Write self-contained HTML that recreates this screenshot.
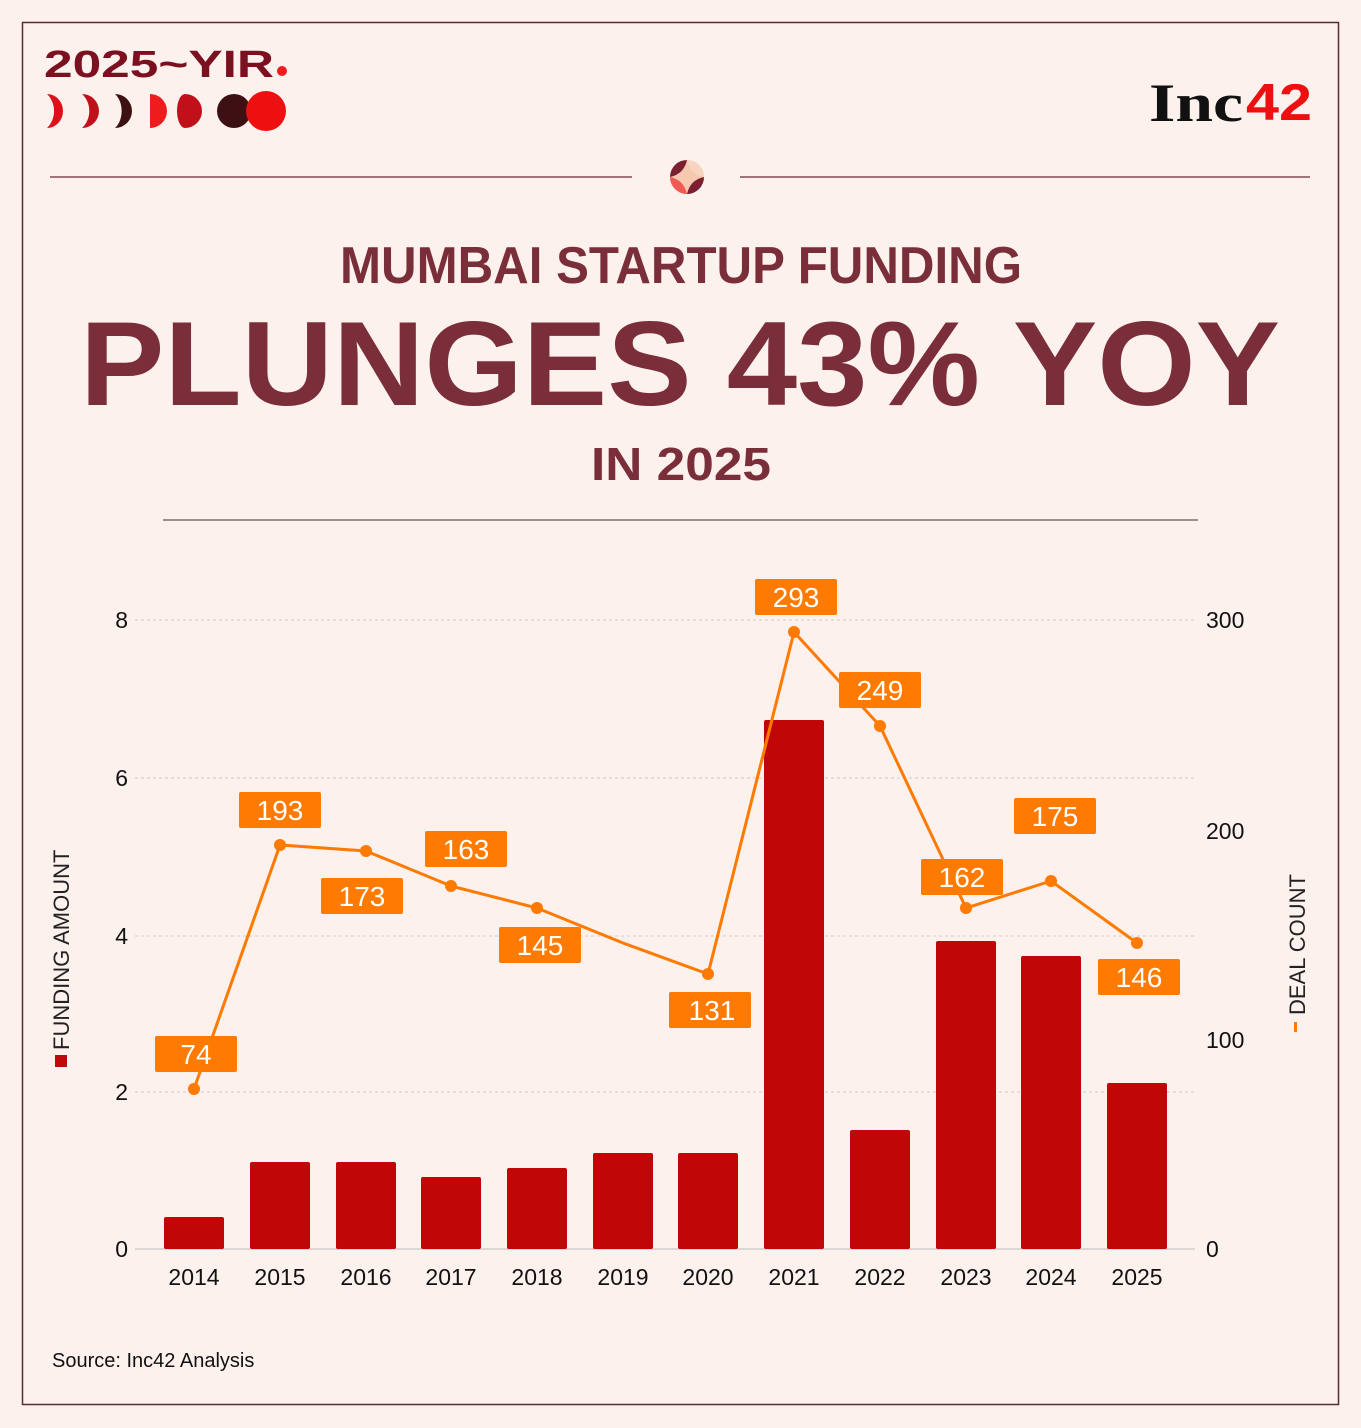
<!DOCTYPE html>
<html><head><meta charset="utf-8"><style>
html,body{margin:0;padding:0;background:#fdf1ee;}
svg{display:block;}
</style></head><body>
<svg width="1361" height="1428" viewBox="0 0 1361 1428" xmlns="http://www.w3.org/2000/svg" font-family="Liberation Sans, Arial, sans-serif">
<rect x="0" y="0" width="1361" height="1428" fill="#fdf1ee"/>
<rect x="22.5" y="22.5" width="1316" height="1382" fill="none" stroke="#5a2a30" stroke-width="1.5"/>
<!-- logo -->
<text x="44" y="77" font-size="38" font-weight="bold" fill="#7a1020" textLength="230" lengthAdjust="spacingAndGlyphs">2025~YIR</text>
<circle cx="282" cy="71" r="5" fill="#ee1c1c"/>
<path d="M47,94 A16,17 0 0 1 47,128 A24,24 0 0 0 47,94Z" fill="#e0101a"/>
<path d="M82,94 A17,17 0 0 1 82,128 A20,22 0 0 0 82,94Z" fill="#c0101a"/>
<path d="M115,94 A17,17 0 0 1 115,128 A14,20 0 0 0 115,94Z" fill="#3d1014"/>
<path d="M150,94 A17,17 0 0 1 150,128 Z" fill="#ee1c1c"/>
<path d="M185,94 A17,17 0 0 1 185,128 A8,17 0 0 1 185,94Z" fill="#c0101a"/>
<circle cx="234" cy="111" r="17" fill="#3d1014"/>
<circle cx="266" cy="111" r="20" fill="#ee1010"/>
<text x="1149" y="121" font-family="Liberation Serif, serif" font-size="54" font-weight="bold" fill="#111" textLength="94" lengthAdjust="spacingAndGlyphs">Inc</text>
<text x="1246" y="120" font-size="52" font-weight="bold" fill="#ee1010" textLength="66" lengthAdjust="spacingAndGlyphs">42</text>
<!-- divider -->
<line x1="50" y1="177" x2="632" y2="177" stroke="#6a2a35" stroke-width="1.2"/>
<line x1="740" y1="177" x2="1310" y2="177" stroke="#6a2a35" stroke-width="1.2"/>
<circle cx="687" cy="177" r="17" fill="#f5c9b0"/>
<path d="M670,177 A17,17 0 0 1 687,160 Q684,174 670,177Z" fill="#7a2030"/>
<path d="M670,177 A17,17 0 0 0 687,194 Q684,180 670,177Z" fill="#ef5a55"/>
<path d="M704,177 A17,17 0 0 1 687,194 Q690,180 704,177Z" fill="#7a2030"/>
<path d="M687,160 A17,17 0 0 1 704,177 Q690,174 687,160Z" fill="#f8d5c0"/>
<!-- titles -->
<text x="340" y="283" font-size="52" font-weight="bold" fill="#7a2e3a" textLength="682" lengthAdjust="spacingAndGlyphs">MUMBAI STARTUP FUNDING</text>
<text x="80" y="405" font-size="120" font-weight="bold" fill="#7a2e3a" textLength="1200" lengthAdjust="spacingAndGlyphs">PLUNGES 43% YOY</text>
<text x="591" y="480" font-size="46" font-weight="bold" fill="#7a2e3a" textLength="180" lengthAdjust="spacingAndGlyphs">IN 2025</text>
<line x1="163" y1="520" x2="1198" y2="520" stroke="#333" stroke-width="1"/>
<!-- grid -->
<g stroke="#ccc" stroke-dasharray="3,3" stroke-width="1">
<line x1="135" y1="620" x2="1195" y2="620"/>
<line x1="135" y1="778" x2="1195" y2="778"/>
<line x1="135" y1="936" x2="1195" y2="936"/>
<line x1="135" y1="1092" x2="1195" y2="1092"/>
</g>
<line x1="135" y1="1249" x2="1195" y2="1249" stroke="#bbb" stroke-width="1"/>
<g font-size="23" fill="#111" text-anchor="end">
<text x="128" y="628">8</text><text x="128" y="786">6</text><text x="128" y="944">4</text><text x="128" y="1100">2</text><text x="128" y="1257">0</text>
</g>
<g font-size="23" fill="#111" text-anchor="start">
<text x="1206" y="628">300</text><text x="1206" y="839">200</text><text x="1206" y="1048">100</text><text x="1206" y="1257">0</text>
</g>
<text transform="translate(69,1050) rotate(-90)" font-size="22" fill="#222">FUNDING AMOUNT</text>
<rect x="55" y="1055" width="12" height="12" fill="#c00a0a"/>
<text transform="translate(1305,1015) rotate(-90)" font-size="22" fill="#222">DEAL COUNT</text>
<rect x="1294" y="1022" width="3" height="10" fill="#ff7a00"/>
<!-- bars -->
<g fill="#c00606">
<rect x="164" y="1217" width="60" height="32" rx="2"/>
<rect x="250" y="1162" width="60" height="87" rx="2"/>
<rect x="336" y="1162" width="60" height="87" rx="2"/>
<rect x="421" y="1177" width="60" height="72" rx="2"/>
<rect x="507" y="1168" width="60" height="81" rx="2"/>
<rect x="593" y="1153" width="60" height="96" rx="2"/>
<rect x="678" y="1153" width="60" height="96" rx="2"/>
<rect x="764" y="720" width="60" height="529" rx="2"/>
<rect x="850" y="1130" width="60" height="119" rx="2"/>
<rect x="936" y="941" width="60" height="308" rx="2"/>
<rect x="1021" y="956" width="60" height="293" rx="2"/>
<rect x="1107" y="1083" width="60" height="166" rx="2"/>
</g>
<g font-size="23" fill="#111" text-anchor="middle">
<text x="194" y="1285">2014</text><text x="280" y="1285">2015</text><text x="366" y="1285">2016</text><text x="451" y="1285">2017</text><text x="537" y="1285">2018</text><text x="623" y="1285">2019</text><text x="708" y="1285">2020</text><text x="794" y="1285">2021</text><text x="880" y="1285">2022</text><text x="966" y="1285">2023</text><text x="1051" y="1285">2024</text><text x="1137" y="1285">2025</text>
</g>
<!-- line -->
<polyline fill="none" stroke="#ff7a00" stroke-width="3" points="194,1089 280,845 366,851 451,886 537,908 623,943 708,974 794,632 880,726 966,908 1051,881 1137,943"/>
<g fill="#ff7a00">
<circle cx="194" cy="1089" r="6"/><circle cx="280" cy="845" r="6"/><circle cx="366" cy="851" r="6"/><circle cx="451" cy="886" r="6"/><circle cx="537" cy="908" r="6"/><circle cx="708" cy="974" r="6"/><circle cx="794" cy="632" r="6"/><circle cx="880" cy="726" r="6"/><circle cx="966" cy="908" r="6"/><circle cx="1051" cy="881" r="6"/><circle cx="1137" cy="943" r="6"/>
</g>
<g fill="#ff7a00">
<rect x="155" y="1036" width="82" height="36" rx="2"/>
<rect x="239" y="792" width="82" height="36" rx="2"/>
<rect x="321" y="878" width="82" height="36" rx="2"/>
<rect x="425" y="831" width="82" height="36" rx="2"/>
<rect x="499" y="927" width="82" height="36" rx="2"/>
<rect x="669" y="992" width="82" height="36" rx="2"/>
<rect x="755" y="579" width="82" height="36" rx="2"/>
<rect x="839" y="672" width="82" height="36" rx="2"/>
<rect x="921" y="859" width="82" height="36" rx="2"/>
<rect x="1014" y="798" width="82" height="36" rx="2"/>
<rect x="1098" y="959" width="82" height="36" rx="2"/>
</g>
<g font-size="28" fill="#fff" text-anchor="middle">
<text x="196" y="1064">74</text>
<text x="280" y="820">193</text>
<text x="362" y="906">173</text>
<text x="466" y="859">163</text>
<text x="540" y="955">145</text>
<text x="712" y="1020">131</text>
<text x="796" y="607">293</text>
<text x="880" y="700">249</text>
<text x="962" y="887">162</text>
<text x="1055" y="826">175</text>
<text x="1139" y="987">146</text>
</g>
<text x="52" y="1367" font-size="20" fill="#111">Source: Inc42 Analysis</text>
</svg>
</body></html>
